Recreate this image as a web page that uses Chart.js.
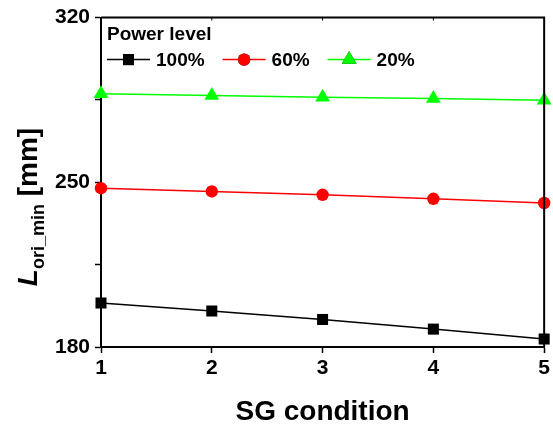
<!DOCTYPE html>
<html>
<head>
<meta charset="utf-8">
<script src="https://cdn.jsdelivr.net/npm/chart.js@4/dist/chart.umd.min.js"></script>
<style>
  html, body { margin: 0; padding: 0; background: #fff; }
  #wrap { width: 553px; height: 425px; position: relative; }
</style>
</head>
<body>
<div id="wrap"><canvas id="chart"></canvas></div>
<script>
// data
const sgCondition = [1, 2, 3, 4, 5];
const power100 = [198.7, 195.3, 191.7, 187.6, 183.4];
const power60 = [247.5, 246.1, 244.7, 243.0, 241.2];
const power20 = [287.6, 286.9, 286.2, 285.6, 284.9];
const seriesNames = ['100%', '60%', '20%'];
const yLabelTicks = [180, 250, 320];

const FONT = '"Liberation Sans", Arial, sans-serif';

function toPoints(vals) {
    return vals.map((v, i) => ({ x: sgCondition[i], y: v }));
}

// frame (top + right) and little ticks on the top axis
const framePlugin = {
    id: 'frame',
    afterDatasetsDraw(chart) {
        const { ctx, chartArea: a, scales } = chart;
        ctx.save();
        ctx.strokeStyle = '#000';
        ctx.lineWidth = 2;
        ctx.beginPath();
        ctx.moveTo(a.left, a.top);
        ctx.lineTo(a.right, a.top);
        ctx.lineTo(a.right, a.bottom);
        ctx.stroke();
        ctx.lineWidth = 1;
        sgCondition.slice(1, -1).forEach(v => {
            const x = scales.x.getPixelForValue(v);
            ctx.beginPath();
            ctx.moveTo(x, a.top);
            ctx.lineTo(x, a.top + 3);
            ctx.stroke();
        });
        ctx.restore();
    }
};

// legend inside the plot: title + line/marker samples
const legendPlugin = {
    id: 'insideLegend',
    afterDraw(chart) {
        const { ctx, chartArea: a } = chart;
        ctx.save();
        ctx.fillStyle = '#000';
        ctx.textBaseline = 'middle';
        ctx.textAlign = 'left';
        ctx.font = 'bold 19px ' + FONT;
        ctx.fillText('Power level', a.left + 6, a.top + 17);
        let x = a.left + 6;
        const y = a.top + 42;
        chart.data.datasets.forEach(ds => {
            ctx.strokeStyle = ds.borderColor;
            ctx.lineWidth = 1.5;
            ctx.beginPath();
            ctx.moveTo(x, y);
            ctx.lineTo(x + 43, y);
            ctx.stroke();
            Chart.helpers.drawPoint(ctx, {
                pointStyle: ds.pointStyle,
                radius: ds.pointRadius,
                rotation: 0,
                borderWidth: 0
            }, x + 21.5, y);
            ctx.fillStyle = ds.pointBackgroundColor;
            ctx.fill();
            ctx.fillStyle = '#000';
            ctx.fillText(ds.label, x + 49, y + 1);
            x += 49 + ctx.measureText(ds.label).width + 18;
        });
        ctx.restore();
    }
};

// y title with italic L and subscript
const yTitlePlugin = {
    id: 'yTitle',
    afterDraw(chart) {
        const { ctx } = chart;
        const parts = [
            { t: 'L', f: 'italic bold 28px ' + FONT, dy: 0 },
            { t: 'ori_min', f: 'bold 18px ' + FONT, dy: 7 },
            { t: ' [mm]', f: 'bold 28px ' + FONT, dy: 0 }
        ];
        let total = 0;
        parts.forEach(p => { ctx.font = p.f; p.w = ctx.measureText(p.t).width; total += p.w; });
        ctx.save();
        ctx.translate(37, 207);
        ctx.rotate(-Math.PI / 2);
        ctx.fillStyle = '#000';
        ctx.textBaseline = 'alphabetic';
        ctx.textAlign = 'left';
        let x = -total / 2;
        parts.forEach(p => {
            ctx.font = p.f;
            ctx.fillText(p.t, x, p.dy);
            x += p.w;
        });
        ctx.restore();
    }
};

const ctx = document.getElementById('chart').getContext('2d');
new Chart(ctx, {
    type: 'line',
    data: {
        datasets: [
            {
                label: seriesNames[0],
                data: toPoints(power100),
                borderColor: '#000000',
                backgroundColor: '#000000',
                pointBackgroundColor: '#000000',
                pointBorderColor: '#000000',
                pointStyle: 'rect',
                pointRadius: 7.8,
                borderWidth: 1.5,
                pointBorderWidth: 0,
                clip: false
            },
            {
                label: seriesNames[1],
                data: toPoints(power60),
                borderColor: '#ff0000',
                backgroundColor: '#ff0000',
                pointBackgroundColor: '#ff0000',
                pointBorderColor: '#ff0000',
                pointStyle: 'circle',
                pointRadius: 6.2,
                borderWidth: 1.5,
                pointBorderWidth: 0,
                clip: false
            },
            {
                label: seriesNames[2],
                data: toPoints(power20),
                borderColor: '#00ff00',
                backgroundColor: '#00ff00',
                pointBackgroundColor: '#00ff00',
                pointBorderColor: '#00ff00',
                pointStyle: 'triangle',
                pointRadius: 8.5,
                borderWidth: 1.5,
                pointBorderWidth: 0,
                clip: false
            }
        ]
    },
    options: {
        responsive: true,
        maintainAspectRatio: false,
        animation: false,
        layout: { padding: { top: 16, right: 6, left: 0, bottom: 0 } },
        plugins: {
            legend: { display: false },
            tooltip: { enabled: false }
        },
        scales: {
            x: {
                type: 'linear',
                min: 1,
                max: 5,
                afterFit: s => { s.height = 78; },
                ticks: {
                    stepSize: 1,
                    color: '#000',
                    padding: 3,
                    font: { family: FONT, size: 21, weight: 'bold' }
                },
                grid: { drawOnChartArea: false, tickLength: 6, tickColor: '#000', tickWidth: 1.5 },
                border: { color: '#000', width: 2 },
                title: {
                    display: true,
                    text: 'SG condition',
                    color: '#000',
                    padding: { top: 0, bottom: -4 },
                    font: { family: FONT, size: 28, weight: 'bold' }
                }
            },
            y: {
                min: 180,
                max: 320,
                afterFit: s => { s.width = 101; },
                ticks: {
                    stepSize: 35,
                    color: '#000',
                    padding: 5,
                    font: { family: FONT, size: 21, weight: 'bold' },
                    callback: v => yLabelTicks.includes(v) ? v : ''
                },
                grid: { drawOnChartArea: false, tickLength: 6, tickColor: '#000', tickWidth: 1.5 },
                border: { color: '#000', width: 2 }
            }
        }
    },
    plugins: [framePlugin, legendPlugin, yTitlePlugin]
});
</script>
</body>
</html>
